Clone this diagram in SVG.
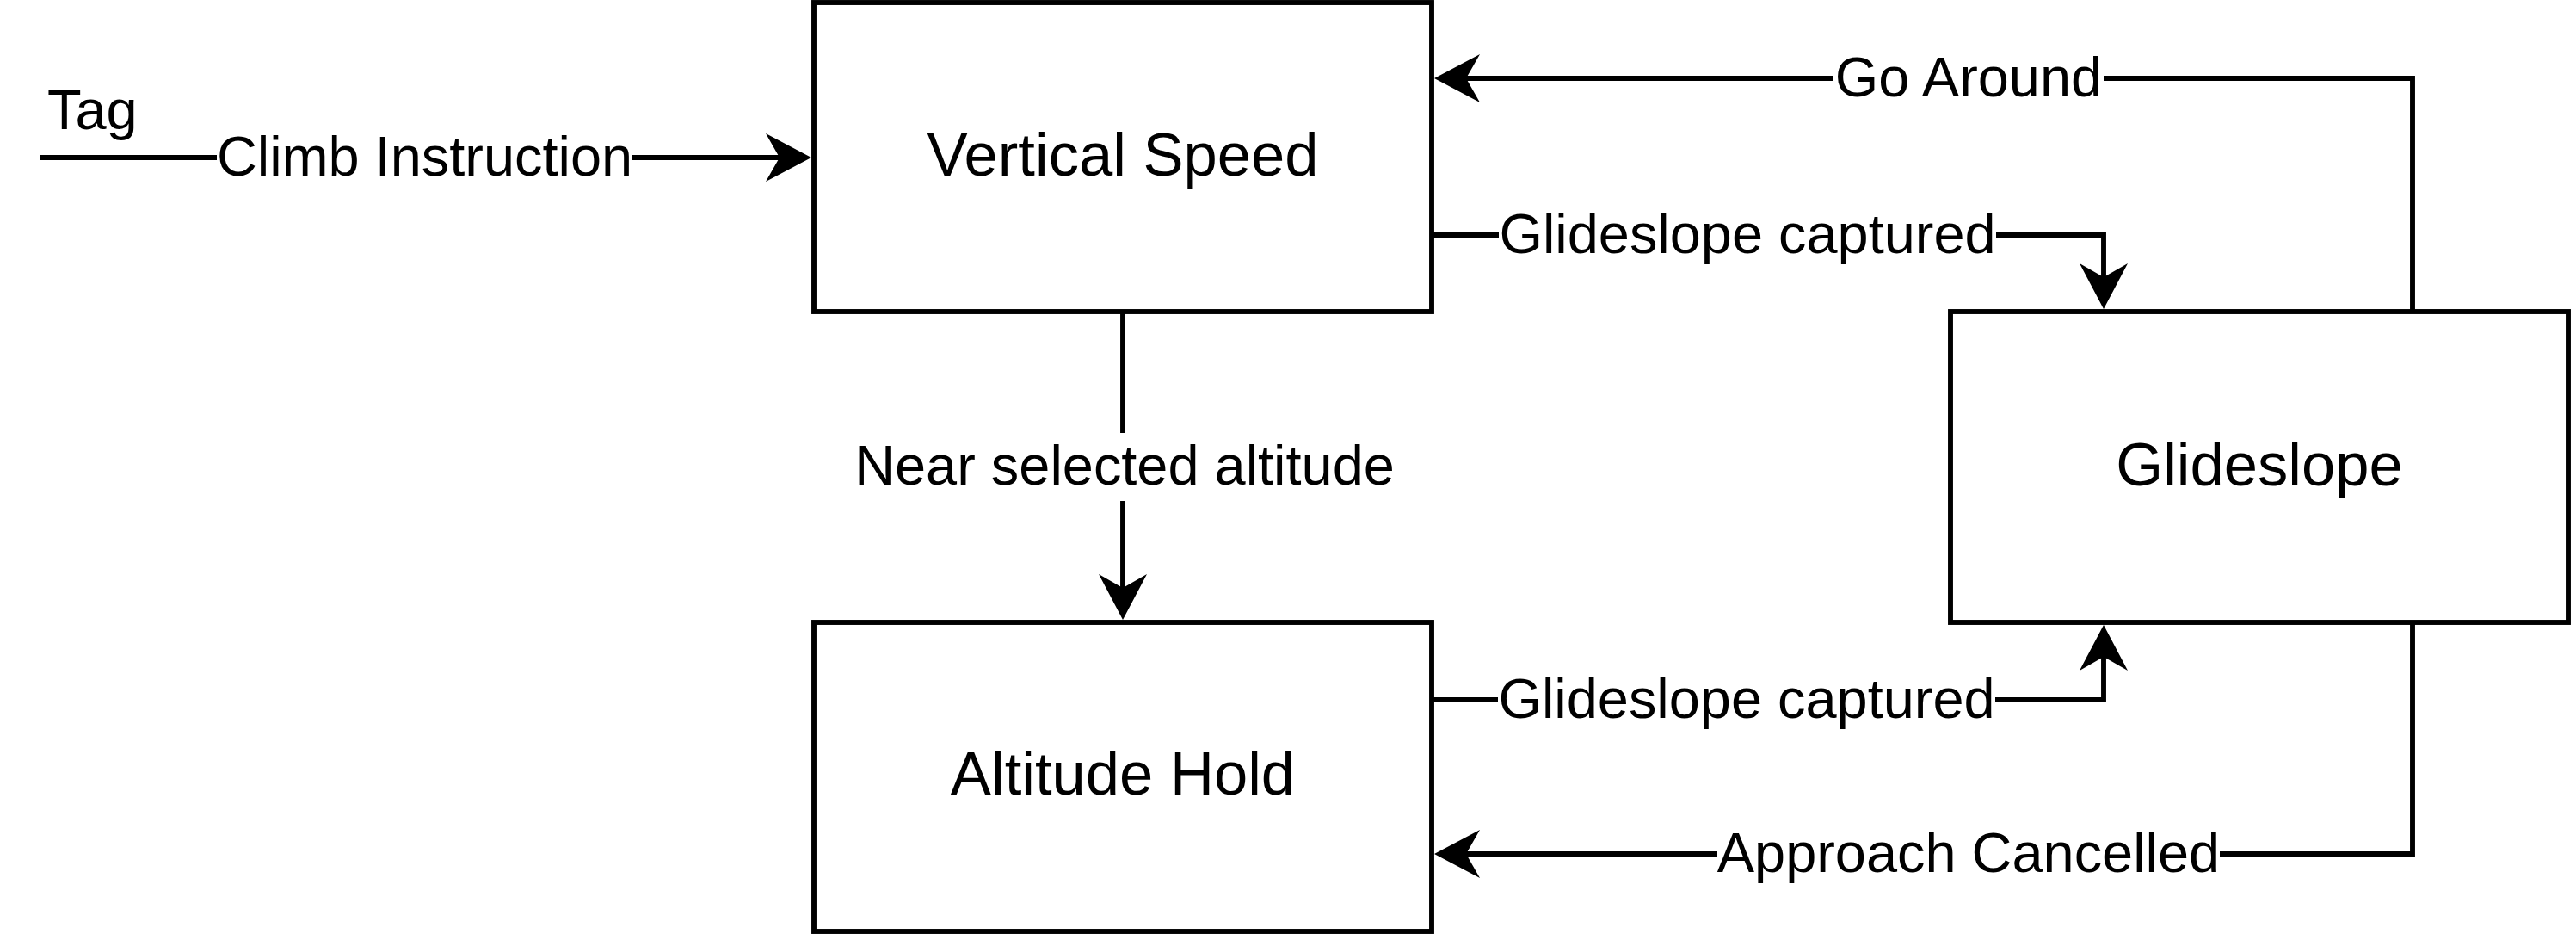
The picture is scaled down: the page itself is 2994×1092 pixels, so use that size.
<svg xmlns="http://www.w3.org/2000/svg" width="2994" height="1092" viewBox="0 0 2994 1092">
<style>
.node{fill:#fff;stroke:#000;stroke-width:5.9}
.ntext{font-family:"Liberation Sans",Arial,sans-serif;font-size:70.6px;fill:#000;text-anchor:middle}
.edge{fill:none;stroke:#000;stroke-width:5.9}
.lbg{fill:#fff;stroke:none}
.ltext{font-family:"Liberation Sans",Arial,sans-serif;font-size:64.9px;fill:#000;text-anchor:middle}
</style>
<defs>
<marker id="arr" markerUnits="userSpaceOnUse" markerWidth="54" markerHeight="57" viewBox="0 0 54 57" refX="16" refY="28" orient="auto" overflow="visible">
<path d="M53,28 L0,0 L16,28 L0,56 Z" fill="#000"/>
</marker>
</defs>
<rect width="2994" height="1092" fill="#fff"/>
<g id="node-vertical-speed">
<rect class="node" x="946" y="3" width="718" height="359"/>
<text class="ntext" x="1305" y="204">Vertical Speed</text>
</g>
<g id="node-altitude-hold">
<rect class="node" x="946" y="723" width="718" height="359"/>
<text class="ntext" x="1305" y="923">Altitude Hold</text>
</g>
<g id="node-glideslope">
<rect class="node" x="2267" y="362" width="718" height="361"/>
<text class="ntext" x="2626" y="564">Glideslope</text>
</g>
<g id="connectors">
<path class="edge" d="M46,183 L906,183" marker-end="url(#arr)"/>
<path class="edge" d="M2804,362 L2804,91 L1704,91" marker-end="url(#arr)"/>
<path class="edge" d="M1664,273 L2445,273 L2445,322" marker-end="url(#arr)"/>
<path class="edge" d="M1305,362 L1305,683" marker-end="url(#arr)"/>
<path class="edge" d="M1664,813 L2445,813 L2445,763" marker-end="url(#arr)"/>
<path class="edge" d="M2804,723 L2804,992 L1704,992" marker-end="url(#arr)"/>
<rect class="lbg" x="252" y="144" width="483" height="79"/>
<text class="ltext" x="493.5" y="204">Climb Instruction</text>
<rect class="lbg" x="2131" y="52" width="314" height="79"/>
<text class="ltext" x="2288" y="112">Go Around</text>
<rect class="lbg" x="1742" y="234" width="578" height="79"/>
<text class="ltext" x="2031" y="294">Glideslope captured</text>
<rect class="lbg" x="993" y="503" width="628" height="79"/>
<text class="ltext" x="1307" y="563">Near selected altitude</text>
<rect class="lbg" x="1741" y="774" width="578" height="79"/>
<text class="ltext" x="2030" y="834">Glideslope captured</text>
<rect class="lbg" x="1996" y="953" width="584" height="79"/>
<text class="ltext" x="2288" y="1013">Approach Cancelled</text>
<text class="ltext" x="55" y="150" style="text-anchor:start">Tag</text>
</g>
</svg>
